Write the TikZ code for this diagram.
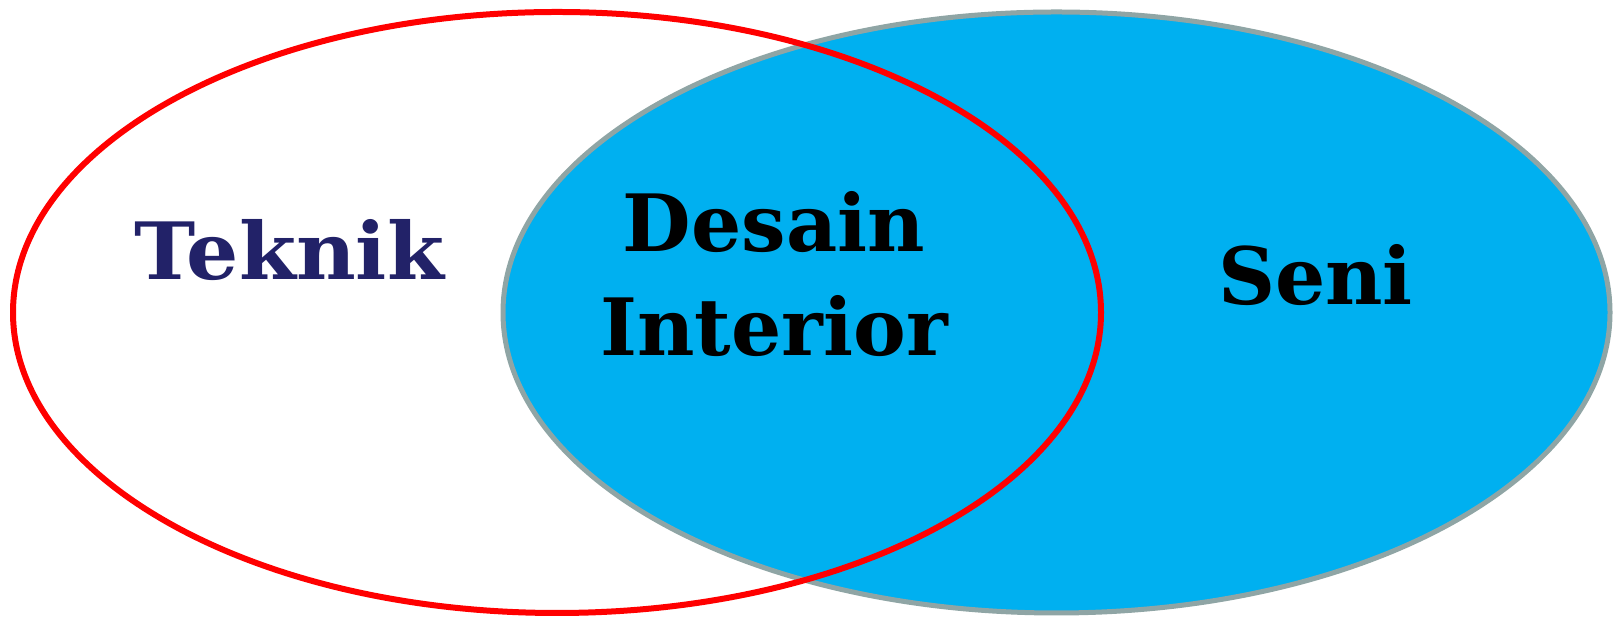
\documentclass[tikz,border=0pt]{standalone}
\usepackage{fontspec}
\setmainfont{DejaVu Serif}
\usepackage{tikz}
\usetikzlibrary{positioning,shapes.geometric}
\definecolor{VennRed}{HTML}{FF0000}
\definecolor{VennBlue}{HTML}{00B0F0}
\definecolor{VennGray}{HTML}{8FA5A5}
\definecolor{VennNavy}{HTML}{222268}

\begin{document}
\begin{tikzpicture}[
  x=0.02cm, y=0.02cm,
  vennset/.style={ellipse, minimum width=1107*0.02cm, minimum height=601*0.02cm, inner sep=0pt, line width=0.1cm},
  venntext/.style={font=\bfseries\fontsize{45}{59}\selectfont, align=center, inner sep=0pt, anchor=base}
]
\useasboundingbox (0,0) rectangle (1616,617);
\node[vennset, fill=VennBlue, draw=VennGray] (seniset) at (1056.5,304.5) {};
\node[vennset, draw=VennRed, line width=0.12cm, minimum width=1088*0.02cm] (teknikset) at (557,304.5) {};
\node[venntext, text=VennNavy, xscale=1.04] (teknik) at (289.5,337) {Teknik};
\node[venntext, anchor=center] (desain) at (774,343) {Desain\\Interior};
\node[venntext] (seni) at (1315.5,312) {Seni};
\end{tikzpicture}
\end{document}
